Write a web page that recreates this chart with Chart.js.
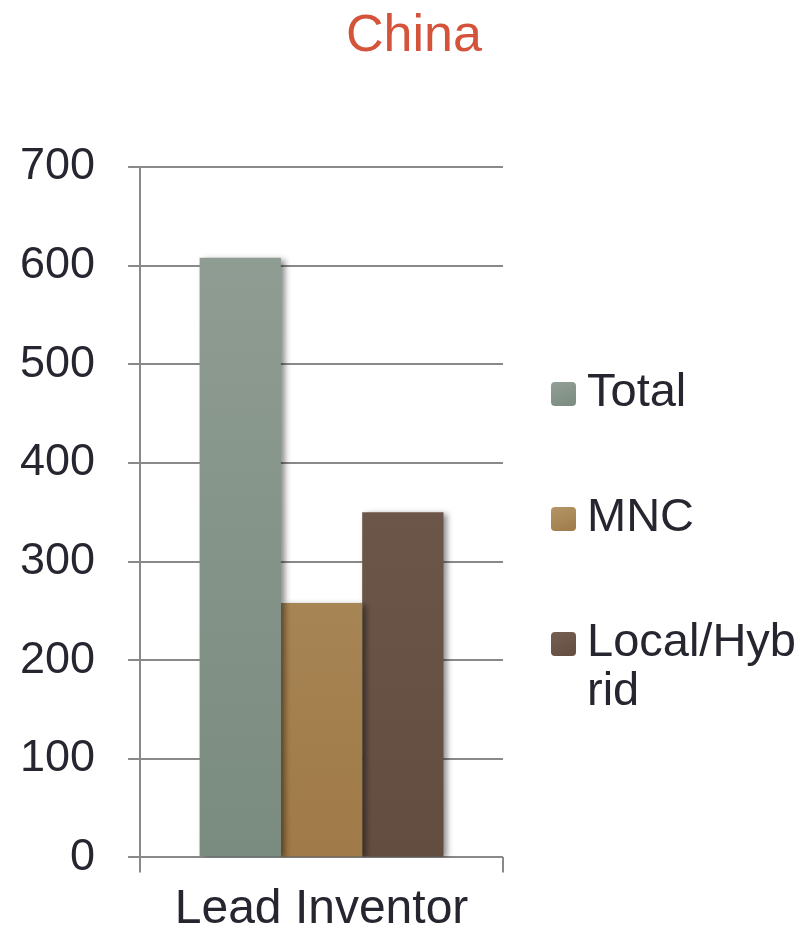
<!DOCTYPE html>
<html>
<head>
<meta charset="utf-8">
<script src="https://cdn.jsdelivr.net/npm/chart.js@4/dist/chart.umd.min.js"></script>
<style>
  html, body { margin: 0; padding: 0; background: #ffffff; }
  #wrap { position: relative; width: 804px; height: 931px; overflow: hidden; }
  #c { position: absolute; left: 0; top: 0; }
  #title { position: absolute; top: 7px; left: 414px; transform: translateX(-50%);
           font-family: "Liberation Sans", Arial, sans-serif; font-size: 52px; line-height: 52px;
           color: #D4533A; white-space: nowrap; }
  .lg-item { position: absolute; left: 551px; width: 253px; }
  .lg-box { position: absolute; left: 0; top: 17px; width: 25px; height: 24px; border-radius: 4px; }
  .lg-text { position: absolute; left: 36px; top: 0; width: 215px; word-break: break-all;
             font-family: "Liberation Sans", Arial, sans-serif; font-size: 47px; line-height: 49px; color: #262630; }
</style>
</head>
<body>
<div id="wrap">
  <canvas id="c" width="804" height="931"></canvas>
  <div id="title"></div>
  <div id="legend"></div>
</div>
<script>
// ---- data ----
const chartTitle = "China";
const categories = ["Lead Inventor"];
const seriesNames = ["Total", "MNC", "Local/Hybrid"];
const totalValues = [608];
const mncValues = [258];
const localHybridValues = [350];
const yTickMin = 0;
const yTickMax = 700;
const yTickStep = 100;

// ---- styles ----
const seriesGradients = [
  ["#929f96", "#7a8b7f"],
  ["#b39668", "#a07a48"],
  ["#755f53", "#634d40"]
];
const seriesValues = [totalValues, mncValues, localHybridValues];

document.getElementById('title').textContent = chartTitle;

function makeGradient(idx) {
  return function(context) {
    const chart = context.chart;
    const area = chart.chartArea;
    if (!area) return seriesGradients[idx][1];
    const y0 = chart.scales.y.getPixelForValue(yTickMax);
    const g = chart.ctx.createLinearGradient(0, y0, 0, area.bottom);
    g.addColorStop(0, seriesGradients[idx][0]);
    g.addColorStop(1, seriesGradients[idx][1]);
    return g;
  };
}

const shadowPlugin = {
  id: 'barShadow',
  beforeDatasetsDraw(chart) {
    const ctx = chart.ctx;
    ctx.save();
    ctx.shadowColor = 'rgba(0,0,0,0.45)';
    ctx.shadowBlur = 6;
    ctx.shadowOffsetX = 4;
    ctx.shadowOffsetY = 2;
  },
  afterDatasetsDraw(chart) {
    chart.ctx.restore();
  }
};

const gridColor = '#898989';
const fontFamily = '"Liberation Sans", Arial, sans-serif';

const chart = new Chart(document.getElementById('c'), {
  type: 'bar',
  data: {
    labels: categories,
    datasets: seriesNames.map((name, i) => ({
      label: name,
      data: seriesValues[i],
      backgroundColor: makeGradient(i),
      borderWidth: 0,
      categoryPercentage: 0.672,
      barPercentage: 1.0
    }))
  },
  plugins: [shadowPlugin],
  options: {
    responsive: false,
    animation: false,
    devicePixelRatio: 1,
    layout: { padding: { top: 167, left: -13, right: 301, bottom: -17 } },
    plugins: {
      legend: { display: false },
      title: { display: false },
      tooltip: { enabled: false }
    },
    scales: {
      x: {
        offset: true,
        grid: { display: true, drawOnChartArea: false, drawTicks: true, tickLength: 15, color: gridColor, lineWidth: 2 },
        border: { display: false },
        ticks: { color: '#262630', padding: 15, font: { family: fontFamily, size: 48, lineHeight: 0.95 } }
      },
      y: {
        min: yTickMin,
        max: yTickMax,
        ticks: { stepSize: yTickStep, color: '#262630', padding: 33, font: { family: fontFamily, size: 45, lineHeight: 1.2 } },
        grid: { color: gridColor, lineWidth: 2, tickLength: 12, drawTicks: true },
        border: { display: true, color: gridColor, width: 2 }
      }
    }
  }
});

// HTML legend built from the datasets
const legendEl = document.getElementById('legend');
const legendTops = [365, 490, 615];
seriesNames.forEach((name, i) => {
  const item = document.createElement('div');
  item.className = 'lg-item';
  item.style.top = legendTops[i] + 'px';
  const box = document.createElement('div');
  box.className = 'lg-box';
  box.style.background = 'linear-gradient(160deg, ' + seriesGradients[i][0] + ', ' + seriesGradients[i][1] + ')';
  const txt = document.createElement('div');
  txt.className = 'lg-text';
  txt.textContent = name;
  item.appendChild(box);
  item.appendChild(txt);
  legendEl.appendChild(item);
});
</script>
</body>
</html>
